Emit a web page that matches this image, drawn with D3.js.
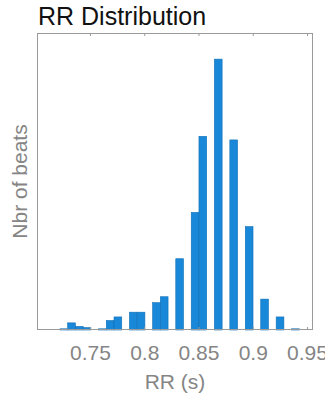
<!DOCTYPE html>
<html><head><meta charset="utf-8">
<script src="https://cdn.jsdelivr.net/npm/d3@7"></script>
<style>html,body{margin:0;padding:0;background:#fff;}</style>
</head><body>
<script>
// Data
const binStart = 0.72235;   // left edge of first bin (s)
const binWidth = 0.007115;  // bin width (s)
const counts = [1,6,3,2,0,1,8,11,0,15,15,0,23,28,0,60,0,99,163,0,228,0,160,0,87,0,26,0,11,0,1,0];
const xTicks = [0.75, 0.8, 0.85, 0.9, 0.95];
const xTickLabels = ["0.75", "0.8", "0.85", "0.9", "0.95"];
const title = "RR Distribution";
const xLabel = "RR (s)";
const yLabel = "Nbr of beats";

const W = 325, H = 396;
const m = {l: 37, r: 313, t: 33, b: 330};
const svg = d3.select("body").append("svg").attr("width", W).attr("height", H);

const x = d3.scaleLinear().domain([0.7012, 0.9555]).range([m.l, m.r]);
const y = d3.scaleLinear().domain([0, 250]).range([m.b, m.t]);

const bins = counts.map((c, i) => ({x0: binStart + i * binWidth, x1: binStart + (i + 1) * binWidth, c}));

// baseline of zero-height bars
svg.append("line")
  .attr("x1", x(bins[0].x0)).attr("x2", x(bins[bins.length - 1].x1))
  .attr("y1", y(0) - 0.5).attr("y2", y(0) - 0.5)
  .attr("stroke", "#1a80cc").attr("stroke-width", 1);

svg.append("g").selectAll("rect").data(bins.filter(d => d.c > 0)).join("rect")
  .attr("x", d => x(d.x0))
  .attr("width", d => x(d.x1) - x(d.x0))
  .attr("y", d => y(d.c))
  .attr("height", d => y(0) - y(d.c))
  .attr("fill", "#1a88d8")
  .attr("stroke", "#0f70b8")
  .attr("stroke-width", 0.6);

// box
const axCol = "#9a9a9a";
svg.append("rect").attr("x", m.l + 0.5).attr("y", m.t + 0.5)
  .attr("width", m.r - m.l - 1).attr("height", m.b - m.t - 1)
  .attr("fill", "none").attr("stroke", axCol).attr("stroke-width", 1);

// ticks (inward, top and bottom)
const xb = d3.axisBottom(x).tickValues(xTicks).tickSizeInner(-3).tickSizeOuter(0)
  .tickFormat((d, i) => xTickLabels[i]).tickPadding(15);
const gb = svg.append("g").attr("transform", `translate(0,${m.b})`).call(xb);
gb.select(".domain").remove();
gb.selectAll("line").attr("stroke", axCol);
gb.selectAll("text").attr("fill", "#858585").attr("font-family", "Liberation Sans, Arial, sans-serif").attr("font-size", 21);

const xt = d3.axisTop(x).tickValues(xTicks).tickSizeInner(-3).tickSizeOuter(0).tickFormat("");
const gt = svg.append("g").attr("transform", `translate(0,${m.t})`).call(xt);
gt.select(".domain").remove();
gt.selectAll("line").attr("stroke", axCol);

// labels
svg.append("text").attr("x", 38).attr("y", 25).text(title)
  .attr("font-family", "Liberation Sans, Arial, sans-serif").attr("font-size", 25).attr("fill", "#111");
svg.append("text").attr("x", (m.l + m.r) / 2).attr("y", 389).attr("text-anchor", "middle").text(xLabel)
  .attr("font-family", "Liberation Sans, Arial, sans-serif").attr("font-size", 21).attr("fill", "#858585");
svg.append("text").attr("transform", `translate(27,${(m.t + m.b) / 2}) rotate(-90)`).attr("text-anchor", "middle").text(yLabel)
  .attr("font-family", "Liberation Sans, Arial, sans-serif").attr("font-size", 21).attr("fill", "#858585");
</script>
</body></html>
